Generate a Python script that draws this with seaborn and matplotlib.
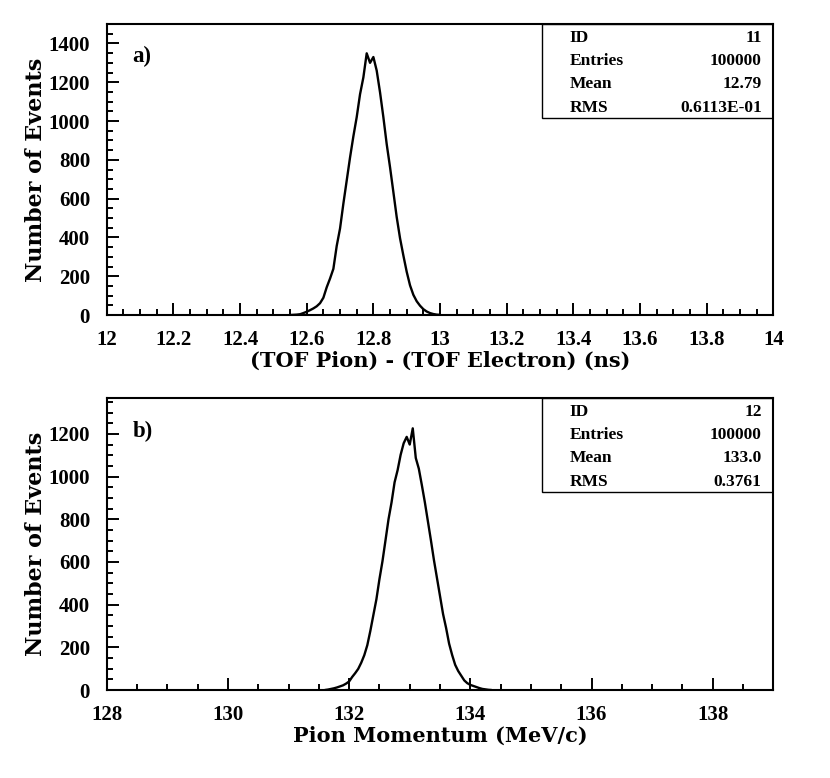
import numpy as np
import pandas as pd
import matplotlib
matplotlib.use("Agg")
import matplotlib.pyplot as plt
import seaborn as sns
from matplotlib.ticker import MultipleLocator, FuncFormatter
from matplotlib.patches import Rectangle

# ---------------- data ----------------
tof_centers = [12.55, 12.56, 12.57, 12.58, 12.59, 12.60, 12.61, 12.62, 12.63, 12.64,
               12.65, 12.66, 12.67, 12.68, 12.69, 12.70, 12.71, 12.72, 12.73, 12.74,
               12.75, 12.76, 12.77, 12.78, 12.79, 12.80, 12.81, 12.82, 12.83, 12.84,
               12.85, 12.86, 12.87, 12.88, 12.89, 12.90, 12.91, 12.92, 12.93, 12.94,
               12.95, 12.96, 12.97, 12.98, 12.99, 13.00]
tof_counts = [0, 1, 2, 4, 10, 17, 25, 34, 45, 61,
              89, 143, 188, 238, 356, 446, 574, 693, 812, 921,
              1020, 1138, 1225, 1349, 1300, 1330, 1260, 1148, 1020, 881,
              762, 634, 505, 396, 307, 223, 153, 104, 71, 48,
              30, 18, 10, 5, 2, 1]

mom_centers = [131.60, 131.65, 131.70, 131.75, 131.80, 131.85, 131.90, 131.95, 132.00, 132.05,
               132.10, 132.15, 132.20, 132.25, 132.30, 132.35, 132.40, 132.45, 132.50, 132.55,
               132.60, 132.65, 132.70, 132.75, 132.80, 132.85, 132.90, 132.95, 133.00, 133.05,
               133.10, 133.15, 133.20, 133.25, 133.30, 133.35, 133.40, 133.45, 133.50, 133.55,
               133.60, 133.65, 133.70, 133.75, 133.80, 133.85, 133.90, 133.95, 134.00, 134.05,
               134.10, 134.15, 134.20, 134.25, 134.30, 134.35]
mom_counts = [0, 2, 5, 8, 12, 17, 22, 30, 40, 61,
              79, 99, 128, 163, 210, 277, 351, 425, 519, 603,
              701, 800, 879, 973, 1030, 1102, 1156, 1186, 1150, 1226,
              1087, 1037, 960, 879, 790, 701, 608, 524, 440, 356,
              291, 217, 164, 118, 89, 67, 45, 32, 24, 19,
              14, 9, 5, 3, 1, 0]

stat_names = ["ID", "Entries", "Mean", "RMS"]
stats_a = ["11", "100000", "12.79", "0.6113E-01"]
stats_b = ["12", "100000", "133.0", "0.3761"]

panel_labels = ["a)", "b)"]
xlabels = ["(TOF Pion) - (TOF Electron) (ns)", "Pion Momentum (MeV/c)"]
ylabel = "Number of Events"

# ---------------- style ----------------
sns.set_style("ticks")
plt.rcParams["font.family"] = ["Liberation Serif", "DejaVu Serif"]
plt.rcParams["font.weight"] = "bold"
plt.rcParams["axes.linewidth"] = 1.5
plt.rcParams["text.color"] = "black"
plt.rcParams["axes.labelcolor"] = "black"
plt.rcParams["xtick.color"] = "black"
plt.rcParams["ytick.color"] = "black"
plt.rcParams["axes.edgecolor"] = "black"

fig = plt.figure(figsize=(8.3, 7.78), dpi=100)
ax_a = fig.add_axes([0.1286, 0.5951, 0.8031, 0.3740])
ax_b = fig.add_axes([0.1286, 0.1131, 0.8031, 0.3753])


def draw(ax, centers, counts, width, xlim, ylim, xmaj, xmin, xlab, plab, svals):
    c = np.asarray(centers, dtype=float)
    edges = [float(e) for e in np.append(c - width / 2, c[-1] + width / 2)]
    df = pd.DataFrame({"x": centers, "w": counts})
    sns.histplot(data=df, x="x", weights="w", bins=edges, element="poly",
                 fill=False, color="black", linewidth=1.7, ax=ax)
    ax.set_xlim(*xlim)
    ax.set_ylim(*ylim)
    ax.xaxis.set_major_locator(MultipleLocator(xmaj))
    ax.xaxis.set_minor_locator(MultipleLocator(xmin))
    ax.yaxis.set_major_locator(MultipleLocator(200))
    ax.yaxis.set_minor_locator(MultipleLocator(50))
    ax.xaxis.set_major_formatter(FuncFormatter(lambda v, p: f"{v:g}"))
    ax.yaxis.set_major_formatter(FuncFormatter(lambda v, p: f"{v:g}"))
    ax.tick_params(which="both", direction="in", top=False, right=False,
                   width=1.4, colors="black", labelcolor="black")
    ax.tick_params(which="major", length=8.6, labelsize=15)
    ax.tick_params(axis="y", which="major", pad=12)
    ax.tick_params(axis="x", which="major", pad=11)
    ax.tick_params(which="minor", length=4.5)
    for lbl in ax.get_xticklabels() + ax.get_yticklabels():
        lbl.set_fontweight("bold")
    ax.set_xlabel(xlab, family="DejaVu Serif", fontweight="bold", fontsize=15,
                  labelpad=0, color="black")
    ax.set_ylabel(ylabel, family="DejaVu Serif", fontweight="bold", fontsize=16,
                  color="black")
    for sp in ax.spines.values():
        sp.set_visible(True)
        sp.set_color("black")
        sp.set_linewidth(1.5)
    ax.text(0.039, 0.887, plab, transform=ax.transAxes, fontsize=16.5,
            fontweight="bold", va="center", ha="left", color="black")
    # statistics box
    ax.add_patch(Rectangle((0.6526, 0.677), 0.3474, 0.323, transform=ax.transAxes,
                           fill=False, edgecolor="black", linewidth=1.0, zorder=5))
    rows = [0.953, 0.873, 0.794, 0.712]
    for name, val, yy in zip(stat_names, svals, rows):
        ax.text(0.6946, yy, name, transform=ax.transAxes, fontsize=12.5,
                fontweight="bold", va="center", ha="left", color="black")
        ax.text(0.9826, yy, val, transform=ax.transAxes, fontsize=12.5,
                fontweight="bold", va="center", ha="right", color="black")
    ax.yaxis.set_label_coords(-0.09, 0.5)


draw(ax_a, tof_centers, tof_counts, 0.01, (12, 14), (0, 1500), 0.2, 0.05,
     xlabels[0], panel_labels[0], stats_a)
draw(ax_b, mom_centers, mom_counts, 0.05, (128, 139), (0, 1368), 2, 0.5,
     xlabels[1], panel_labels[1], stats_b)

fig.savefig("out.png", dpi=100, facecolor="white")
